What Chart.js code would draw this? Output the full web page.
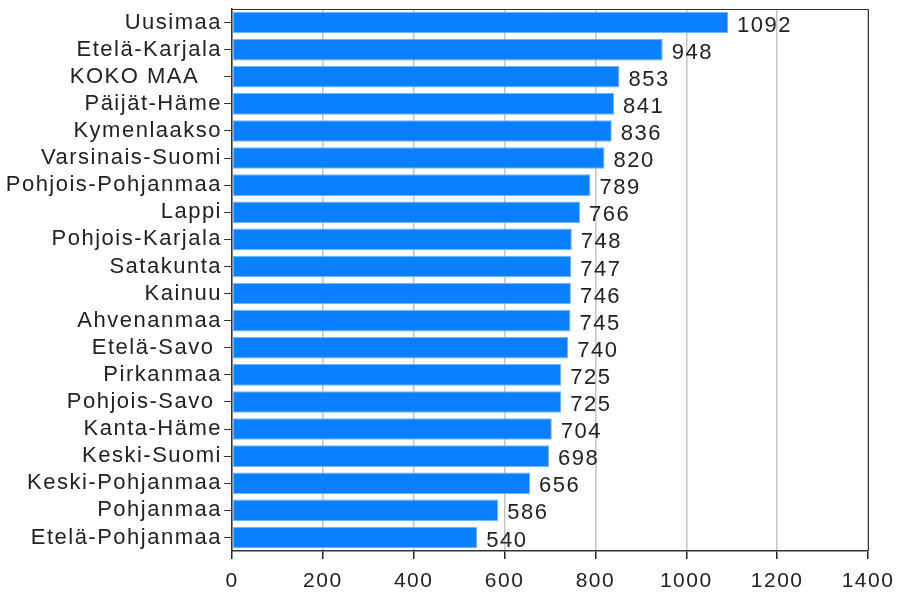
<!DOCTYPE html>
<html>
<head>
<meta charset="utf-8">
<script src="https://cdn.jsdelivr.net/npm/chart.js@4"></script>
<style>
  html, body { margin: 0; padding: 0; background: #fff; }
  #wrap { width: 899px; height: 592px; }
</style>
</head>
<body>
<div id="wrap"><canvas id="chart"></canvas></div>
<script>
const maakunnat = [
  "Uusimaa", "Etelä-Karjala", "KOKO MAA   ", "Päijät-Häme", "Kymenlaakso",
  "Varsinais-Suomi", "Pohjois-Pohjanmaa", "Lappi", "Pohjois-Karjala", "Satakunta",
  "Kainuu", "Ahvenanmaa", "Etelä-Savo ", "Pirkanmaa", "Pohjois-Savo ",
  "Kanta-Häme", "Keski-Suomi", "Keski-Pohjanmaa", "Pohjanmaa", "Etelä-Pohjanmaa"
];
const arvot = [1092, 948, 853, 841, 836, 820, 789, 766, 748, 747, 746, 745, 740, 725, 725, 704, 698, 656, 586, 540];
const xTicks = [0, 200, 400, 600, 800, 1000, 1200, 1400];

const fontti = "'Liberation Sans', Arial, sans-serif";

// letter spacing, canvas resets it on resize
const vali = {
  id: "vali",
  beforeLayout(chart) { chart.ctx.letterSpacing = "1.5px"; },
  beforeDraw(chart) { chart.ctx.letterSpacing = "1.5px"; }
};

// top + right frame and value labels
const kehys = {
  id: "kehys",
  afterDraw(chart) {
    const { ctx, chartArea: a } = chart;
    ctx.save();
    ctx.strokeStyle = "#333";
    ctx.lineWidth = 1;
    ctx.beginPath();
    ctx.moveTo(a.left, a.top + 0.5);
    ctx.lineTo(a.right + 0.5, a.top + 0.5);
    ctx.lineTo(a.right + 0.5, a.bottom);
    ctx.stroke();

    ctx.letterSpacing = "1.5px";
    ctx.font = "22px " + fontti;
    ctx.fillStyle = "#222";
    ctx.textBaseline = "middle";
    ctx.textAlign = "left";
    const meta = chart.getDatasetMeta(0);
    meta.data.forEach((bar, i) => {
      ctx.fillText(String(arvot[i]), bar.x + 9, bar.y + 3);
    });
    ctx.restore();
  }
};

new Chart(document.getElementById("chart"), {
  type: "bar",
  data: {
    labels: maakunnat,
    datasets: [{
      data: arvot,
      backgroundColor: "#0a7fff",
      borderColor: "#6fb4ff",
      borderWidth: 1,
      borderSkipped: false,
      barPercentage: 0.82,
      categoryPercentage: 0.97
    }]
  },
  options: {
    indexAxis: "y",
    responsive: true,
    maintainAspectRatio: false,
    animation: false,
    layout: { padding: { top: 9, right: 31, left: 0, bottom: 0 } },
    plugins: {
      legend: { display: false },
      tooltip: { enabled: false }
    },
    scales: {
      x: {
        min: 0,
        max: 1400,
        afterBuildTicks(scale) { scale.ticks = xTicks.map(v => ({ value: v })); },
        afterFit(scale) {
          scale.height = 41;
          scale.paddingLeft = 0;
          scale.paddingRight = 0;
        },
        grid: {
          color: "#c4c4c4",
          lineWidth: 1.5,
          tickColor: "#222",
          tickLength: 8
        },
        border: { color: "#333", width: 1.5 },
        ticks: {
          color: "#222",
          font: { family: fontti, size: 21 },
          padding: 10,
          maxRotation: 0,
          callback: v => String(v)
        }
      },
      y: {
        afterFit(scale) {
          scale.width = 232;
          scale.paddingTop = 0;
          scale.paddingBottom = 0;
        },
        grid: {
          drawOnChartArea: false,
          tickColor: "#333",
          tickLength: 8,
          offset: false
        },
        border: { color: "#333", width: 1.5 },
        ticks: {
          color: "#222",
          font: { family: fontti, size: 22 },
          padding: 2,
          autoSkip: false
        }
      }
    }
  },
  plugins: [vali, kehys]
});
</script>
</body>
</html>
